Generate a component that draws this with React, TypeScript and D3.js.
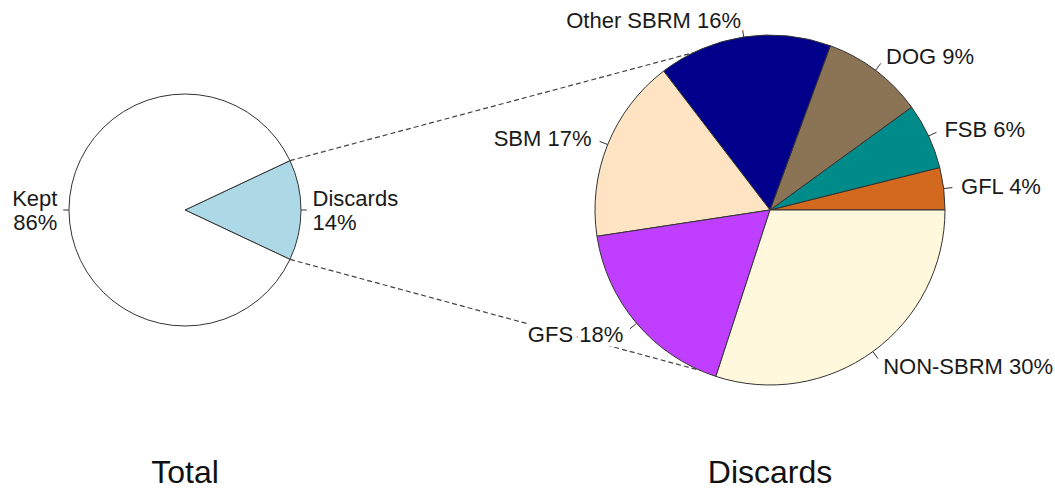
import React from "react";
import * as d3 from "d3";

const totalLabels = ["Discards", "Kept"];
const totalValues = [14, 86];
const totalColors = ["#ADD8E6", "#FFFFFF"];

const discardLabels = ["GFL", "FSB", "DOG", "Other SBRM", "SBM", "GFS", "NON-SBRM"];
const discardValues = [3.9, 6.1, 9.4, 16.0, 17.0, 17.6, 30.0];
const discardColors = ["#D2691E", "#008B8B", "#8B7355", "#00008B", "#FFE4C4", "#BF3EFF", "#FFF8DC"];

const titles = ["Total", "Discards"];

const W = 1055;
const H = 489;
const FONT = "'Liberation Sans', Arial, sans-serif";
const LABEL_SIZE = 22;

type PieSpec = {
  cx: number;
  cy: number;
  r: number;
  labels: string[];
  values: number[];
  colors: string[];
  initDeg: number; // R-style init angle (deg, ccw from 3 o'clock)
  twoLine: boolean;
};

function PieChart({ spec }: { spec: PieSpec }) {
  const { cx, cy, r, labels, values, colors, initDeg, twoLine } = spec;
  const start = Math.PI / 2 - (initDeg * Math.PI) / 180;
  const pie = d3
    .pie<number>()
    .sort(null)
    .value((d) => d)
    .startAngle(start)
    .endAngle(start - 2 * Math.PI);
  const arcs = pie(values);
  const arcGen = d3.arc<d3.PieArcDatum<number>>().innerRadius(0).outerRadius(r);
  const total = d3.sum(values);
  return (
    <g>
      <g transform={`translate(${cx},${cy})`}>
        {arcs.map((a, i) => (
          <path key={i} d={arcGen(a) || ""} fill={colors[i]} stroke="#333" strokeWidth={1} />
        ))}
      </g>
      {arcs.map((a, i) => {
        const mid = (a.startAngle + a.endAngle) / 2;
        const sx = Math.sin(mid);
        const sy = -Math.cos(mid);
        const x0 = cx + r * sx;
        const y0 = cy + r * sy;
        const x1 = cx + 1.05 * r * sx;
        const y1 = cy + 1.05 * r * sy;
        const tx = cx + 1.1 * r * sx;
        const ty = cy + 1.1 * r * sy;
        const anchor = sx >= 0 ? "start" : "end";
        const pct = Math.round((values[i] / total) * 100) + "%";
        return (
          <g key={"l" + i}>
            <line x1={x0} y1={y0} x2={x1} y2={y1} stroke="#333" strokeWidth={1} />
            {twoLine ? (
              <text x={tx} y={ty} textAnchor={anchor} fontFamily={FONT} fontSize={LABEL_SIZE} fill="#1a1a1a">
                <tspan x={tx} dy="-0.2em">{labels[i]}</tspan>
                <tspan x={tx} dy="1.1em">{pct}</tspan>
              </text>
            ) : (
              <text
                x={tx}
                y={ty}
                dy="0.36em"
                textAnchor={anchor}
                fontFamily={FONT}
                fontSize={LABEL_SIZE}
                fill="#1a1a1a"
                stroke="#fff"
                strokeWidth={9}
                strokeLinejoin="round"
                style={{ paintOrder: "stroke" }}
              >
                {labels[i] + " " + pct}
              </text>
            )}
          </g>
        );
      })}
    </g>
  );
}

export default function App() {
  const left: PieSpec = {
    cx: 185,
    cy: 210,
    r: 116,
    labels: totalLabels,
    values: totalValues,
    colors: totalColors,
    initDeg: -(totalValues[0] / d3.sum(totalValues)) * 180,
    twoLine: true,
  };
  const right: PieSpec = {
    cx: 770,
    cy: 210,
    r: 175,
    labels: discardLabels,
    values: discardValues,
    colors: discardColors,
    initDeg: 0,
    twoLine: false,
  };
  const halfDeg = (totalValues[0] / d3.sum(totalValues)) * 180;
  const toRad = (d: number) => (d * Math.PI) / 180;
  const p = (c: PieSpec, ang: number) => [c.cx + c.r * Math.cos(ang), c.cy - c.r * Math.sin(ang)];
  const [ux0, uy0] = p(left, toRad(halfDeg));
  const [ux1, uy1] = p(right, toRad(116));
  const [dx0, dy0] = p(left, toRad(-halfDeg));
  const [dx1, dy1] = p(right, toRad(-113.5));
  return (
    <svg width={W} height={H} style={{ position: "absolute", left: 0, top: 0, background: "#fff" }}>
      <line x1={ux0} y1={uy0} x2={ux1} y2={uy1} stroke="#444" strokeWidth={1.2} strokeDasharray="5,3" />
      <line x1={dx0} y1={dy0} x2={dx1} y2={dy1} stroke="#444" strokeWidth={1.2} strokeDasharray="5,3" />
      <PieChart spec={left} />
      <PieChart spec={right} />
      <text x={185} y={483} textAnchor="middle" fontFamily={FONT} fontSize={32} fill="#111">
        {titles[0]}
      </text>
      <text x={770} y={483} textAnchor="middle" fontFamily={FONT} fontSize={32} fill="#111">
        {titles[1]}
      </text>
    </svg>
  );
}
